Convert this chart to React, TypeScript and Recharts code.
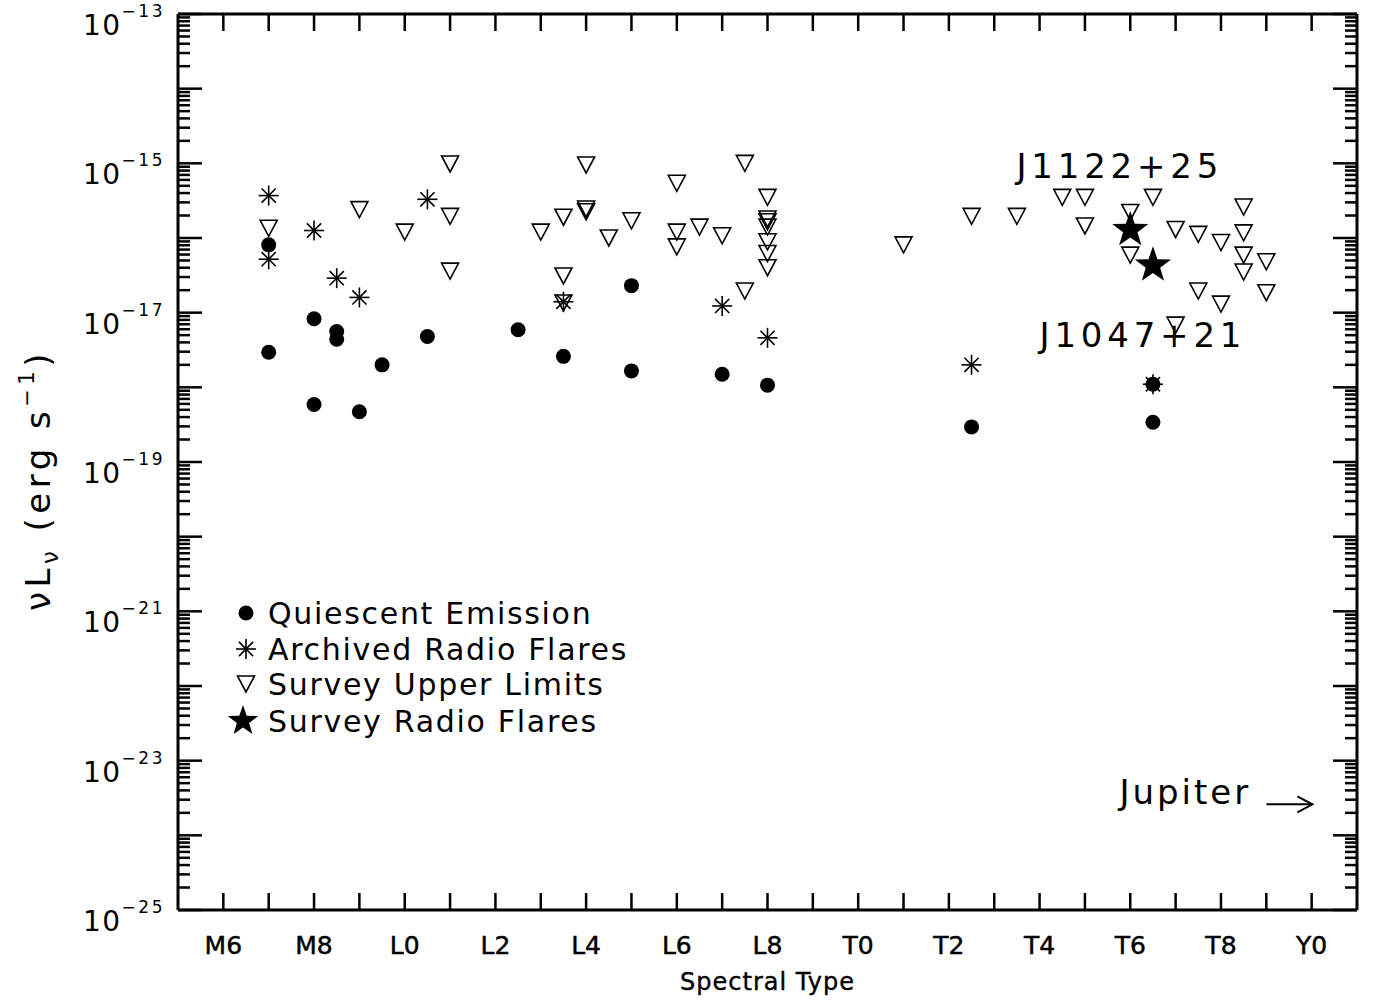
import { ScatterChart, Scatter, XAxis, YAxis, Legend } from "recharts";

const FONT = "DejaVu Sans";

// spectral type as a number: M6 = 6, L0 = 10, T0 = 20, Y0 = 30
const typeTicks = [6, 7, 8, 9, 10, 11, 12, 13, 14, 15, 16, 17, 18, 19, 20, 21, 22, 23, 24, 25, 26, 27, 28, 29, 30];
const typeLabelValues = [6, 8, 10, 12, 14, 16, 18, 20, 22, 24, 26, 28, 30];
const typeLabelNames = ["M6", "M8", "L0", "L2", "L4", "L6", "L8", "T0", "T2", "T4", "T6", "T8", "Y0"];

// luminosity axis (log), decades and the labelled ones
const decadeExps = [-25, -24, -23, -22, -21, -20, -19, -18, -17, -16, -15, -14, -13];
const labelledExps = [-25, -23, -21, -19, -17, -15, -13];
const minorMantissas = [2, 3, 4, 5, 6, 7, 8, 9];
const lumTicks = [
  ...decadeExps.map((e) => Math.pow(10, e)),
  ...decadeExps.slice(0, -1).flatMap((e) => minorMantissas.map((m) => m * Math.pow(10, e))),
];

const quiescent = [
  { x: 7, y: 8.1e-17 }, { x: 7, y: 2.95e-18 },
  { x: 8, y: 8.3e-18 }, { x: 8, y: 5.9e-19 },
  { x: 8.5, y: 5.6e-18 }, { x: 8.5, y: 4.4e-18 },
  { x: 9, y: 4.7e-19 }, { x: 9.5, y: 2.0e-18 },
  { x: 10.5, y: 4.8e-18 }, { x: 12.5, y: 5.9e-18 },
  { x: 13.5, y: 2.6e-18 }, { x: 15, y: 2.3e-17 },
  { x: 15, y: 1.66e-18 }, { x: 17, y: 1.5e-18 },
  { x: 18, y: 1.07e-18 }, { x: 22.5, y: 2.95e-19 },
  { x: 26.5, y: 1.1e-18 }, { x: 26.5, y: 3.4e-19 },
];

const archivedFlares = [
  { x: 7, y: 3.7e-16 }, { x: 7, y: 5.2e-17 },
  { x: 8, y: 1.26e-16 }, { x: 8.5, y: 2.9e-17 },
  { x: 9, y: 1.6e-17 }, { x: 10.5, y: 3.3e-16 },
  { x: 13.5, y: 1.4e-17 }, { x: 17, y: 1.23e-17 },
  { x: 18, y: 4.6e-18 }, { x: 22.5, y: 2.0e-18 },
  { x: 26.5, y: 1.1e-18 },
];

const upperLimits = [
  { x: 7, y: 1.35e-16 }, { x: 9, y: 2.4e-16 }, { x: 10, y: 1.2e-16 },
  { x: 11, y: 9.8e-16 }, { x: 11, y: 1.95e-16 }, { x: 11, y: 3.6e-17 },
  { x: 13, y: 1.2e-16 }, { x: 13.5, y: 1.9e-16 }, { x: 13.5, y: 3.1e-17 },
  { x: 13.5, y: 1.35e-17 }, { x: 14, y: 9.5e-16 }, { x: 14, y: 2.45e-16 },
  { x: 14, y: 2.25e-16 }, { x: 14.5, y: 1.0e-16 }, { x: 15, y: 1.7e-16 },
  { x: 16, y: 5.4e-16 }, { x: 16, y: 1.2e-16 }, { x: 16, y: 7.6e-17 },
  { x: 16.5, y: 1.4e-16 }, { x: 17, y: 1.07e-16 }, { x: 17.5, y: 1.0e-15 },
  { x: 17.5, y: 1.95e-17 }, { x: 18, y: 3.5e-16 }, { x: 18, y: 1.8e-16 },
  { x: 18, y: 1.65e-16 }, { x: 18, y: 1.4e-16 }, { x: 18, y: 8.9e-17 },
  { x: 18, y: 6.2e-17 }, { x: 18, y: 4.0e-17 }, { x: 21, y: 8.1e-17 },
  { x: 22.5, y: 1.95e-16 }, { x: 23.5, y: 1.95e-16 }, { x: 24.5, y: 3.5e-16 },
  { x: 25, y: 3.5e-16 }, { x: 25, y: 1.45e-16 }, { x: 26, y: 2.2e-16 },
  { x: 26, y: 5.9e-17 }, { x: 26.5, y: 3.5e-16 }, { x: 27, y: 1.3e-16 },
  { x: 27, y: 6.8e-18 }, { x: 27.5, y: 1.12e-16 }, { x: 27.5, y: 1.95e-17 },
  { x: 28, y: 8.7e-17 }, { x: 28, y: 1.3e-17 }, { x: 28.5, y: 2.6e-16 },
  { x: 28.5, y: 1.17e-16 }, { x: 28.5, y: 5.9e-17 }, { x: 28.5, y: 3.5e-17 },
  { x: 29, y: 4.8e-17 }, { x: 29, y: 1.85e-17 },
];

const surveyFlares = [
  { x: 26, y: 1.28e-16 },
  { x: 26.5, y: 4.3e-17 },
];

// text anchors (left end of the baseline), in data units
const annotations = [
  { x: 23.49, y: 6.4e-16, text: "J1122+25", arrow: false },
  { x: 24.0, y: 3.5e-18, text: "J1047+21", arrow: false },
  { x: 25.76, y: 2.6e-24, text: "Jupiter", arrow: true },
];

const legendItems = [
  { name: "Quiescent Emission", symbol: "dot" },
  { name: "Archived Radio Flares", symbol: "asterisk" },
  { name: "Survey Upper Limits", symbol: "triangle" },
  { name: "Survey Radio Flares", symbol: "star" },
];

const starPoints = (cx: number, cy: number, R: number, r: number) => {
  const pts: string[] = [];
  for (let i = 0; i < 10; i++) {
    const rad = i % 2 === 0 ? R : r;
    const a = -Math.PI / 2 + (i * Math.PI) / 5;
    pts.push(`${cx + rad * Math.cos(a)},${cy + rad * Math.sin(a)}`);
  }
  return pts.join(" ");
};

const DotShape = ({ cx, cy }: any) => <circle cx={cx} cy={cy} r={7.5} fill="#000" />;

const AsteriskShape = ({ cx, cy }: any) => {
  const arm = 10;
  const d = arm * 0.7071;
  return (
    <g stroke="#000" strokeWidth={1.6}>
      <line x1={cx - arm} y1={cy} x2={cx + arm} y2={cy} />
      <line x1={cx} y1={cy - arm} x2={cx} y2={cy + arm} />
      <line x1={cx - d} y1={cy - d} x2={cx + d} y2={cy + d} />
      <line x1={cx - d} y1={cy + d} x2={cx + d} y2={cy - d} />
    </g>
  );
};

const TriangleShape = ({ cx, cy }: any) => (
  <polygon
    points={`${cx - 8.5},${cy - 8} ${cx + 8.5},${cy - 8} ${cx},${cy + 8}`}
    fill="none"
    stroke="#000"
    strokeWidth={1.6}
  />
);

const StarShape = ({ cx, cy }: any) => <polygon points={starPoints(cx, cy, 19, 7.6)} fill="#000" />;

const AnnotationShape = ({ cx, cy, payload }: any) => (
  <g>
    <text x={cx} y={cy} fontSize={34} letterSpacing={payload.arrow ? 3 : 4.8} fontFamily={FONT} fill="#000">
      {payload.text}
    </text>
    {payload.arrow && (
      <g stroke="#000" strokeWidth={2} fill="none">
        <line x1={cx + 147} y1={cy} x2={cx + 193} y2={cy} />
        <polyline points={`${cx + 178},${cy - 8} ${cx + 193},${cy} ${cx + 178},${cy + 8}`} />
      </g>
    )}
  </g>
);

const isDecade = (v: number) => {
  const lg = Math.log10(v);
  return Math.abs(lg - Math.round(lg)) < 1e-6;
};

const LeftTick = ({ x, y, payload }: any) => {
  const v = payload.value;
  const major = isDecade(v);
  const e = Math.round(Math.log10(v));
  return (
    <g>
      <line x1={x} x2={x + (major ? 24 : 12)} y1={y} y2={y} stroke="#000" strokeWidth={2.5} />
      {major && labelledExps.includes(e) && (
        <text x={x - 13} y={y + 21} textAnchor="end" fontFamily={FONT} fill="#000" fontSize={28} letterSpacing={1.5}>
          10
          <tspan fontSize={17} dy={-18} letterSpacing={2.5}>
            {`−${-e}`}
          </tspan>
        </text>
      )}
    </g>
  );
};

const RightTick = ({ x, y, payload }: any) => {
  const major = isDecade(payload.value);
  return <line x1={x} x2={x - (major ? 24 : 12)} y1={y} y2={y} stroke="#000" strokeWidth={2.5} />;
};

const BottomTick = ({ x, y, payload }: any) => {
  const idx = typeLabelValues.indexOf(payload.value);
  return (
    <g>
      <line x1={x} x2={x} y1={y} y2={y - 17} stroke="#000" strokeWidth={2.5} />
      {idx >= 0 && (
        <text x={x} y={y + 44} textAnchor="middle" fontFamily={FONT} fontSize={25} fill="#000" stroke="#000" strokeWidth={0.5}>
          {typeLabelNames[idx]}
        </text>
      )}
    </g>
  );
};

const TopTick = ({ x, y }: any) => (
  <line x1={x} x2={x} y1={y} y2={y + 17} stroke="#000" strokeWidth={2.5} />
);

const renderXLabel = ({ viewBox }: any) => (
  <text
    x={viewBox.x + viewBox.width / 2}
    y={viewBox.y + 80}
    textAnchor="middle"
    fontFamily={FONT}
    fontSize={24}
    letterSpacing={1}
    fill="#000"
    stroke="#000"
    strokeWidth={0.4}
  >
    Spectral Type
  </text>
);

const renderYLabel = () => (
  <text transform="translate(50, 480) rotate(-90)" textAnchor="middle" fontFamily={FONT} fontSize={34} letterSpacing={4.5} fill="#000">
    <tspan>νL</tspan>
    <tspan fontSize={23} dy={8}>ν</tspan>
    <tspan dy={-8}> (erg s</tspan>
    <tspan fontSize={21} dy={-16}>−1</tspan>
    <tspan dy={16}>)</tspan>
  </text>
);

const LegendIcon = ({ symbol, cx, cy }: any) => {
  if (symbol === "dot") return <DotShape cx={cx} cy={cy} />;
  if (symbol === "asterisk") return <AsteriskShape cx={cx} cy={cy} />;
  if (symbol === "triangle") return <TriangleShape cx={cx} cy={cy} />;
  return <polygon points={starPoints(cx - 3, cy, 16, 6.4)} fill="#000" />;
};

const renderLegend = () => {
  const rowY = [20, 56, 91, 128];
  return (
    <svg width={420} height={150} style={{ display: "block" }}>
      {legendItems.map((item, i) => (
        <g key={item.name}>
          <LegendIcon symbol={item.symbol} cx={18} cy={rowY[i]} />
          <text x={40} y={rowY[i] + 11} fontFamily={FONT} fontSize={30} letterSpacing={1.7} fill="#000">
            {item.name}
          </text>
        </g>
      ))}
    </svg>
  );
};

const axisStroke = { stroke: "#000", strokeWidth: 3 };

export default function App() {
  return (
    <div style={{ position: "absolute", left: 0, top: 0 }}>
      <ScatterChart width={1379} height={1006} margin={{ top: 13, right: 21, bottom: 16, left: 0 }}>
        <XAxis
          dataKey="x"
          type="number"
          domain={[5, 31]}
          ticks={typeTicks}
          interval={0}
          allowDataOverflow
          height={80}
          tickSize={0}
          tickMargin={0}
          tickLine={false}
          axisLine={axisStroke}
          tick={(p: any) => <BottomTick {...p} />}
          label={renderXLabel}
        />
        <XAxis
          xAxisId="top"
          orientation="top"
          dataKey="x"
          type="number"
          domain={[5, 31]}
          ticks={typeTicks}
          interval={0}
          allowDataOverflow
          height={1}
          tickSize={0}
          tickMargin={0}
          tickLine={false}
          axisLine={axisStroke}
          tick={(p: any) => <TopTick {...p} />}
        />
        <YAxis
          dataKey="y"
          type="number"
          scale="log"
          domain={[1e-25, 1e-13]}
          ticks={lumTicks}
          interval={0}
          allowDataOverflow
          width={178}
          tickSize={0}
          tickMargin={0}
          tickLine={false}
          axisLine={axisStroke}
          tick={(p: any) => <LeftTick {...p} />}
          label={renderYLabel}
        />
        <YAxis
          yAxisId="right"
          orientation="right"
          dataKey="y"
          type="number"
          scale="log"
          domain={[1e-25, 1e-13]}
          ticks={lumTicks}
          interval={0}
          allowDataOverflow
          width={1}
          tickSize={0}
          tickMargin={0}
          tickLine={false}
          axisLine={axisStroke}
          tick={(p: any) => <RightTick {...p} />}
        />
        <Legend
          content={renderLegend}
          layout="vertical"
          align="center"
          verticalAlign="middle"
          wrapperStyle={{ left: 228, top: 593, width: 420, height: 150 }}
        />
        <Scatter name="Survey Upper Limits" data={upperLimits} shape={TriangleShape} isAnimationActive={false} />
        <Scatter name="Archived Radio Flares" data={archivedFlares} shape={AsteriskShape} isAnimationActive={false} />
        <Scatter name="Quiescent Emission" data={quiescent} shape={DotShape} isAnimationActive={false} />
        <Scatter name="Survey Radio Flares" data={surveyFlares} shape={StarShape} isAnimationActive={false} />
        <Scatter name="labels" data={annotations} shape={AnnotationShape} legendType="none" isAnimationActive={false} />
        <Scatter name="frame" xAxisId="top" yAxisId="right" data={[]} legendType="none" isAnimationActive={false} />
      </ScatterChart>
    </div>
  );
}
